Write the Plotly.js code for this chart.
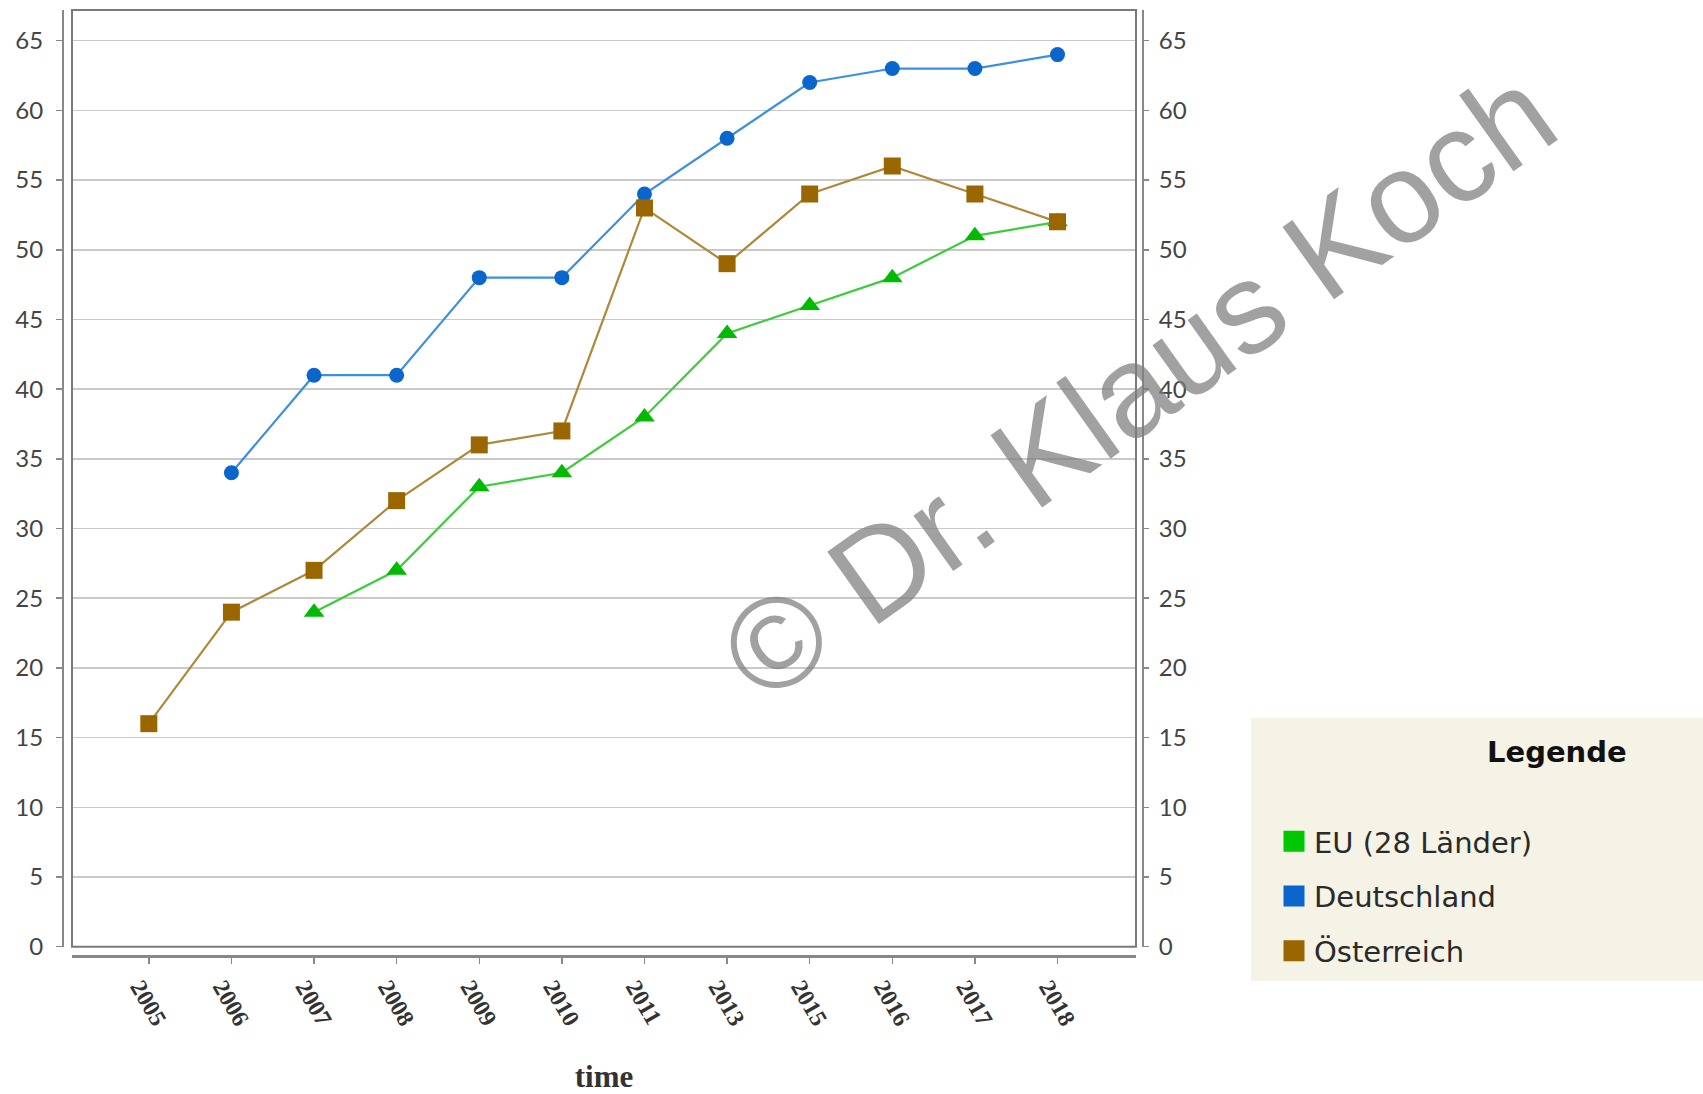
<!DOCTYPE html>
<html>
<head>
<meta charset="utf-8">
<script src="https://cdn.plot.ly/plotly-3.0.1.min.js"></script>
<style>html,body{margin:0;padding:0;background:#fff;}#chart{width:1703px;height:1094px;}</style>
</head>
<body>
<div id="chart"></div>
<script>
// ---- data ----
const years = ['2005','2006','2007','2008','2009','2010','2011','2013','2015','2016','2017','2018'];
const eu28 = [null, null, 24, 27, 33, 34, 38, 44, 46, 48, 51, 52];
const deutschland = [null, 34, 41, 41, 48, 48, 54, 58, 62, 63, 63, 64];
const oesterreich = [16, 24, 27, 32, 36, 37, 53, 49, 54, 56, 54, 52];
const seriesNames = ['EU (28 Länder)', 'Deutschland', 'Österreich'];
const yTicks = [0,5,10,15,20,25,30,35,40,45,50,55,60,65];

// ---- pixel helpers (paper area: x 55..1160, y 5..965) ----
const PL = 55, PR = 1160, PT = 5, PB = 965;
const px = v => (v - PL) / (PR - PL);
const py = v => (PB - v) / (PB - PT);

const cols = {
  eu: {m: '#00bb00', l: '#3ccc3c', leg: '#00c800'},
  de: {m: '#0a66cc', l: '#3d8fe0', leg: '#0a66cc'},
  at: {m: '#996600', l: '#b0883a', leg: '#996600'}
};

const traces = [
  {x: years, y: eu28, name: seriesNames[0], mode: 'lines+markers', showlegend: false,
   line: {color: cols.eu.l, width: 2.2}, marker: {symbol: 'triangle-up', size: 18, color: cols.eu.m}},
  {x: years, y: deutschland, name: seriesNames[1], mode: 'lines+markers', showlegend: false,
   line: {color: cols.de.l, width: 2.2}, marker: {symbol: 'circle', size: 15, color: cols.de.m}},
  {x: years, y: oesterreich, name: seriesNames[2], mode: 'lines+markers', showlegend: false,
   line: {color: cols.at.l, width: 2.2}, marker: {symbol: 'square', size: 17, color: cols.at.m}},
  // legend entries (square swatches)
  {x: [null], y: [null], name: seriesNames[0], mode: 'markers', legendgroup: 'a',
   marker: {symbol: 'square', size: 16, color: cols.eu.leg, line: {color: cols.eu.leg, width: 5}}},
  {x: [null], y: [null], name: seriesNames[1], mode: 'markers', legendgroup: 'b',
   marker: {symbol: 'square', size: 16, color: cols.de.leg, line: {color: cols.de.leg, width: 5}}},
  {x: [null], y: [null], name: seriesNames[2], mode: 'markers', legendgroup: 'c',
   marker: {symbol: 'square', size: 16, color: cols.at.leg, line: {color: cols.at.leg, width: 5}}},
  // carrier for the right-hand axis
  {x: years, y: oesterreich, yaxis: 'y2', mode: 'none', showlegend: false, hoverinfo: 'skip'}
];

const yTickFont = {family: 'Lato, sans-serif', size: 24, color: '#444'};

const layout = {
  width: 1703, height: 1094,
  margin: {l: PL, r: 1703 - PR, t: PT, b: 1094 - PB, pad: 0},
  paper_bgcolor: '#ffffff', plot_bgcolor: 'rgba(0,0,0,0)',
  showlegend: true,
  xaxis: {
    type: 'category', domain: [px(72), px(1136)], anchor: 'free', position: py(956),
    range: [-0.93, 11.95], categoryorder: 'array', categoryarray: years,
    showgrid: false, zeroline: false,
    showline: true, linecolor: '#888', linewidth: 2.5,
    ticks: 'outside', ticklen: 6, tickcolor: '#888', tickwidth: 1.5,
    tickangle: 60, ticklabelshift: -9, automargin: false,
    tickfont: {family: 'Liberation Serif, serif', size: 24, color: '#333', weight: 'bold'},
    title: {text: '<b>time</b>', standoff: 44, font: {family: 'Liberation Serif, serif', size: 31, color: '#333'}}
  },
  yaxis: {
    domain: [py(946.7), py(10)], anchor: 'free', position: px(63), side: 'left',
    range: [0, 67.2], tickmode: 'array', tickvals: yTicks, ticktext: yTicks.map(String),
    showgrid: true, gridcolor: '#c9c9c9', gridwidth: 1.5, zeroline: false,
    showline: true, linecolor: '#888', linewidth: 2,
    ticks: 'outside', ticklen: 6, tickcolor: '#888', tickwidth: 1.5,
    ticklabelstandoff: 8, automargin: false, tickfont: yTickFont
  },
  yaxis2: {
    overlaying: 'y', matches: 'y', anchor: 'free', position: px(1143), side: 'right',
    range: [0, 67.2], tickmode: 'array', tickvals: yTicks, ticktext: yTicks.map(String),
    showgrid: false, zeroline: false,
    showline: true, linecolor: '#888', linewidth: 2,
    ticks: 'outside', ticklen: 5, tickcolor: '#888', tickwidth: 1.5,
    ticklabelstandoff: 5, automargin: false, tickfont: yTickFont
  },
  legend: {
    x: px(1274), y: py(816), xanchor: 'left', yanchor: 'top',
    bgcolor: 'rgba(0,0,0,0)', borderwidth: 0,
    traceorder: 'grouped', tracegroupgap: 14, itemsizing: 'trace',
    font: {family: 'DejaVu Sans, sans-serif', size: 29, color: '#2a2a2a'}
  },
  shapes: [
    // plot frame
    {type: 'rect', xref: 'paper', yref: 'paper', x0: px(72), x1: px(1136), y0: py(946.7), y1: py(10),
     line: {color: '#7a7a7a', width: 2}, fillcolor: 'rgba(0,0,0,0)', layer: 'above'},
    // legend panel
    {type: 'rect', xref: 'paper', yref: 'paper', x0: px(1251), x1: px(1712), y0: py(981), y1: py(718),
     line: {width: 0}, fillcolor: '#f5f2e6', layer: 'below'}
  ],
  annotations: [
    {text: '<b>Legende</b>', xref: 'paper', yref: 'paper', x: px(1557), y: py(752),
     xanchor: 'center', yanchor: 'middle', showarrow: false,
     font: {family: 'DejaVu Sans, sans-serif', size: 29, color: '#111'}},
    {text: '© Dr. Klaus Koch', xref: 'paper', yref: 'paper', x: px(1138), y: py(384),
     xanchor: 'center', yanchor: 'middle', showarrow: false, textangle: -35.5,
     font: {family: 'Liberation Sans, Arial, sans-serif', size: 129, color: 'rgba(125,125,125,0.72)'}}
  ]
};

Plotly.newPlot('chart', traces, layout, {displayModeBar: false, staticPlot: true});
</script>
</body>
</html>
